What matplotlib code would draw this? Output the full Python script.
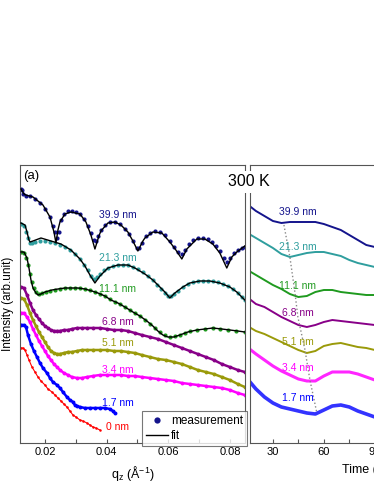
import matplotlib
matplotlib.use("Agg")
import matplotlib.pyplot as plt
from matplotlib.ticker import MultipleLocator, NullLocator
from matplotlib.lines import Line2D

plt.rcParams['font.family'] = ['Liberation Sans', 'DejaVu Sans']
plt.rcParams['mathtext.fontset'] = 'custom'
plt.rcParams['mathtext.rm'] = 'Liberation Sans'
plt.rcParams['mathtext.it'] = 'Liberation Sans:italic'

# ---------------- left panel: XRR (offset intensity, arb.) ----------------
q399 = [0.01222, 0.01254, 0.01287, 0.01384, 0.01514, 0.01676, 0.01838, 0.02, 0.02162, 0.02259,
        0.02324, 0.02389, 0.02454, 0.02519, 0.02616, 0.02746, 0.02875, 0.03005, 0.03135, 0.03264,
        0.03394, 0.03491, 0.03588, 0.03653, 0.03718, 0.03815, 0.03945, 0.04107, 0.04269, 0.04431,
        0.04593, 0.04723, 0.04853, 0.04982, 0.05047, 0.05144, 0.05274, 0.05404, 0.05566, 0.05728,
        0.0589, 0.06052, 0.06182, 0.06311, 0.06441, 0.06538, 0.06668, 0.06797, 0.06959, 0.07121,
        0.07283, 0.07413, 0.07543, 0.07673, 0.07802, 0.07899, 0.07997, 0.08126, 0.08256, 0.08386, 0.08483]
i399 = [254, 253, 249, 247, 247, 244, 240, 234, 226, 217, 211, 205, 211, 223, 229, 232, 232, 231, 229, 224,
        217, 210, 203, 202, 207, 213, 218, 221, 221, 219, 214, 209, 202, 195, 195, 200, 207, 210, 212, 211,
        208, 202, 196, 191, 189, 193, 199, 203, 205, 205, 204, 201, 197, 192, 185, 181, 185, 190, 193, 195, 196]
qf399 = [0.01222, 0.01319, 0.01384, 0.01611, 0.01935, 0.02162, 0.02292, 0.02357, 0.02421, 0.02486,
         0.02648, 0.02843, 0.03135, 0.03329, 0.03491, 0.03621, 0.0375, 0.03815, 0.04042, 0.04269,
         0.04464, 0.0469, 0.04853, 0.05015, 0.05177, 0.05242, 0.05501, 0.05793, 0.06052, 0.06247,
         0.06441, 0.06603, 0.06927, 0.07186, 0.07446, 0.07673, 0.07899, 0.08062, 0.08224, 0.08483]
f399 = [254, 249, 248, 246, 238, 226, 211, 200, 213, 221, 229, 231, 229, 221, 208, 194, 207, 212, 220, 221,
        218, 211, 202, 192, 202, 205, 211, 210, 201, 193, 184, 194, 204, 204, 199, 190, 175, 186, 191, 197]

q213 = [0.01222, 0.01319, 0.01384, 0.01449, 0.01514, 0.01579, 0.01676, 0.01838, 0.02, 0.02162,
        0.02324, 0.02486, 0.02648, 0.0281, 0.02972, 0.03135, 0.03264, 0.03394, 0.03491, 0.03588,
        0.03685, 0.03783, 0.03912, 0.04042, 0.04204, 0.04366, 0.04528, 0.0469, 0.04853, 0.05015,
        0.05177, 0.05339, 0.05501, 0.05631, 0.0576, 0.0589, 0.05987, 0.06084, 0.06182, 0.06311,
        0.06473, 0.06635, 0.06797, 0.06959, 0.07121, 0.07283, 0.07446, 0.07608, 0.0777, 0.07932,
        0.08094, 0.08256, 0.08386, 0.08483]
i213 = [219, 217, 211, 205, 200, 200, 201, 202, 202, 201, 200, 198, 196, 193, 189, 184, 178, 173, 167, 164,
        166, 169, 173, 175, 177, 178, 178, 178, 176, 174, 171, 167, 163, 158, 154, 150, 147, 147, 149, 152,
        156, 159, 161, 162, 162, 162, 162, 161, 159, 157, 154, 150, 146, 143]
qf213 = [0.01222, 0.01352, 0.01417, 0.01481, 0.01514, 0.01611, 0.0187, 0.02194, 0.02519, 0.02843,
         0.03135, 0.03297, 0.03459, 0.03621, 0.03783, 0.04042, 0.04366, 0.0469, 0.04917, 0.05242,
         0.05501, 0.05728, 0.0589, 0.06052, 0.06214, 0.06473, 0.067, 0.07024, 0.07348, 0.07673,
         0.07997, 0.08224, 0.08418, 0.08483]
f213 = [220, 218, 211, 203, 201, 202, 205, 202, 199, 193, 184, 177, 168, 160, 167, 175, 178, 178, 175, 169,
        163, 156, 151, 145, 150, 156, 160, 162, 162, 160, 156, 151, 145, 143]

q111 = [0.01222, 0.01319, 0.01384, 0.01449, 0.01514, 0.01579, 0.01643, 0.01708, 0.01805, 0.01903,
        0.02032, 0.02162, 0.02324, 0.02486, 0.02648, 0.0281, 0.02972, 0.03135, 0.03297, 0.03459,
        0.03621, 0.03783, 0.03945, 0.04107, 0.04269, 0.04431, 0.04593, 0.04755, 0.04917, 0.0508,
        0.05242, 0.05404, 0.05566, 0.05728, 0.0589, 0.06052, 0.06214, 0.06376, 0.06538, 0.067,
        0.06927, 0.07186, 0.07446, 0.07673, 0.07932, 0.08191, 0.08483]
i111 = [191, 190, 185, 178, 169, 161, 155, 151, 149, 150, 151, 152, 153, 154, 155, 155, 155, 155, 154, 153,
        151, 149, 147, 144, 141, 139, 136, 133, 130, 127, 123, 119, 115, 111, 108, 106, 107, 108, 110, 112,
        113, 114, 115, 114, 113, 112, 111]
qf111 = [0.01222, 0.01319, 0.01417, 0.01481, 0.01546, 0.01611, 0.01708, 0.01773, 0.0187, 0.02,
         0.02227, 0.02421, 0.02648, 0.02843, 0.0307, 0.03297, 0.03523, 0.03718, 0.03945, 0.04139,
         0.04366, 0.04593, 0.04853, 0.0508, 0.05306, 0.05501, 0.05663, 0.05825, 0.05987, 0.06182,
         0.06376, 0.06635, 0.06927, 0.07186, 0.07446, 0.07737, 0.07997, 0.08256, 0.08483]
f111 = [191, 191, 185, 175, 163, 155, 150, 148, 149, 151, 153, 154, 155, 155, 155, 154, 152, 150, 147, 143,
        140, 136, 131, 127, 122, 117, 112, 108, 106, 106, 108, 111, 113, 114, 115, 114, 113, 112, 111]

q_thin = [0.01222, 0.01319, 0.01417, 0.01514, 0.01611, 0.01708, 0.01805, 0.01903, 0.02, 0.02097,
          0.02194, 0.02292, 0.02389, 0.02486, 0.02616, 0.02746, 0.02875, 0.03037, 0.03199, 0.03361,
          0.03556, 0.03783, 0.0401, 0.04237, 0.04464, 0.0469, 0.04917, 0.05144, 0.05404, 0.05663,
          0.05922, 0.06182, 0.06441, 0.067, 0.06959, 0.07218, 0.07478, 0.07737, 0.07997, 0.08256, 0.08483]
i68 = [156, 155, 148, 140, 133, 128, 124, 120, 117, 115, 113, 112, 112, 112, 113, 113, 114, 115, 115, 115,
       115, 115, 114, 113, 113, 112, 110, 108, 106, 104, 101, 98, 95, 92, 89, 86, 83, 79, 76, 73, 71]
i51 = [145, 144, 138, 130, 123, 117, 111, 106, 101, 96, 92, 90, 89, 89, 90, 91, 91, 92, 93, 93,
       93, 93, 93, 92, 92, 91, 90, 88, 86, 84, 83, 81, 79, 76, 73, 71, 69, 66, 63, 59, 56]
i34 = [130, 130, 126, 121, 114, 108, 102, 97, 92, 87, 83, 79, 76, 73, 70, 68, 66, 65, 65, 66,
       67, 68, 68, 68, 68, 67, 67, 66, 65, 64, 63, 62, 60, 59, 58, 57, 56, 55, 53, 50, 48]
q17 = [0.01222, 0.01319, 0.01384, 0.01449, 0.01546, 0.01643, 0.01741, 0.01838, 0.01935, 0.02065,
       0.02162, 0.02259, 0.02389, 0.02486, 0.02583, 0.02713, 0.0281, 0.02908, 0.02972, 0.03037,
       0.03135, 0.03297, 0.03459, 0.03621, 0.03783, 0.03945, 0.04107, 0.04204, 0.04269]
i17 = [118, 118, 116, 108, 99, 92, 86, 80, 75, 70, 65, 61, 58, 55, 51, 46, 43, 41, 38, 37,
       36, 35, 35, 35, 35, 35, 34, 32, 30]
q0 = [0.01222, 0.01287, 0.01352, 0.01417, 0.01481, 0.01579, 0.01676, 0.01773, 0.0187, 0.02,
      0.02097, 0.02227, 0.02324, 0.02421, 0.02519, 0.02616, 0.02713, 0.0281, 0.02908, 0.03005,
      0.03135, 0.03232, 0.03361, 0.03459, 0.03556, 0.03653, 0.03783]
i0 = [95, 95, 93, 88, 83, 76, 71, 66, 62, 58, 54, 51, 48, 45, 42, 39, 36, 32, 28, 26,
      23, 22, 20, 18, 16, 15, 13]

labels = ["39.9 nm", "21.3 nm", "11.1 nm", "6.8 nm", "5.1 nm", "3.4 nm", "1.7 nm", "0 nm"]
colors = ["#14148c", "#2f9e9e", "#1f9a1f", "#880088", "#9a9a0a", "#ff00ff", "#0000ff", "#ff0000"]
label_y_left = [228, 185, 154, 121, 100, 73, 40, 16]

# ---------------- right panel: time traces ----------------
t = [17, 20, 25, 30, 35, 40, 45, 50, 55, 60, 65, 70, 75, 80, 85, 90, 95]
r399 = [236, 232, 227, 222, 220, 221, 221, 221, 221, 219, 216, 213, 208, 203, 198, 196, 194]
r213 = [208, 205, 200, 195, 189, 186, 188, 190, 191, 191, 189, 187, 183, 180, 178, 176, 175]
r111 = [171, 168, 163, 158, 154, 149, 146, 147, 151, 153, 153, 151, 150, 149, 148, 148, 147]
r68 = [143, 139, 136, 131, 126, 122, 118, 116, 118, 121, 123, 122, 121, 120, 119, 118, 117]
r51 = [115, 112, 109, 105, 101, 97, 93, 90, 92, 97, 99, 100, 98, 96, 95, 93, 91]
r34 = [93, 89, 83, 77, 72, 68, 64, 62, 62, 67, 71, 71, 71, 69, 66, 63, 60]
r17 = [60, 54, 46, 40, 36, 34, 32, 30, 29, 33, 37, 38, 36, 32, 29, 26, 24]
label_y_right = [231, 196, 157, 130, 101, 75, 45]
t_min = [36.5, 40, 43, 44.7, 48.9, 51.8, 55.9]
y_min = [218, 186, 150, 126, 93, 63, 30]

W, H = 374, 484
fig = plt.figure(figsize=(W / 100, H / 100), dpi=100)
axL = fig.add_axes([20 / W, 41 / H, 225 / W, 278 / H])
axR = fig.add_axes([250 / W, 41 / H, 230 / W, 278 / H])

# measured points
meas = [(q399, i399), (q213, i213), (q111, i111), (q_thin, i68), (q_thin, i51), (q_thin, i34), (q17, i17), (q0, i0)]
for k, ((qq, ii), c) in enumerate(zip(meas, colors)):
    if k < 3:
        axL.plot(qq, ii, 'o', ms=3.0, color=c, mec='none', zorder=2)
    elif k < 7:
        axL.plot(qq, ii, '-', lw=1.8, color=c, zorder=2)
        axL.plot(qq, ii, 'o', ms=2.8, color=c, mec='none', zorder=2)
    else:
        axL.plot(qq, ii, 'o', ms=1.8, color=c, mec='none', zorder=2)
        axL.plot(qq, ii, '-', lw=0.8, color=c, zorder=2)

for qq, ff in [(qf399, f399), (qf213, f213), (qf111, f111)]:
    axL.plot(qq, ff, '-', color='black', lw=1.0, zorder=3)

for lab, c, y in zip(labels, colors, label_y_left):
    axL.text(0.0435, y, lab, color=c, fontsize=7.5, ha='center', va='center')

axL.set_xlim(0.0119, 0.0849)
axL.set_ylim(0, 278)
axL.xaxis.set_major_locator(MultipleLocator(0.02))
axL.xaxis.set_minor_locator(MultipleLocator(0.01))
axL.yaxis.set_major_locator(NullLocator())
axL.tick_params(axis='x', which='both', direction='in', length=3, width=0.8, labelsize=8, pad=3, color='#555555')
axL.set_xlabel(r'q$_\mathrm{z}$ ($\mathrm{\AA}^{-1}$)', fontsize=9)
axL.xaxis.set_label_coords(0.5, -0.075)
axL.set_ylabel('Intensity (arb.unit)', fontsize=8.5)
axL.yaxis.set_label_coords(-0.025, 0.5)
axL.text(0.049, 0.96, '(a)', transform=axL.transAxes, fontsize=9.5, ha='center', va='center')

handles = [Line2D([], [], ls='none', marker='o', ms=4.5, color='#14148c', mec='none'),
           Line2D([], [], color='black', lw=1.0)]
leg = axL.legend(handles, ['measurement', 'fit'], loc='lower right', bbox_to_anchor=(1.01, -0.01),
                 fontsize=8.5, frameon=True, fancybox=False, borderaxespad=0, handlelength=1.8,
                 handletextpad=0.3, labelspacing=0.2, borderpad=0.35)
leg.get_frame().set_edgecolor('#555555')
leg.get_frame().set_linewidth(0.8)

# right panel
traces = [r399, r213, r111, r68, r51, r34, r17]
widths = [1.4, 1.4, 1.4, 1.4, 1.4, 2.2, 2.6]
alphas = [1, 1, 1, 1, 1, 0.85, 0.8]
for rr, c, lw, a in zip(traces, colors, widths, alphas):
    axR.plot(t, rr, '-', color=c, lw=lw, alpha=a)
axR.plot(t_min, y_min, ':', color='#888888', lw=1.0)
for lab, c, y in zip(labels, colors, label_y_right):
    axR.text(44.7, y, lab, color=c, fontsize=7.5, ha='center', va='center')

axR.set_xlim(16.5, 152)
axR.set_ylim(0, 278)
axR.xaxis.set_major_locator(MultipleLocator(30))
axR.xaxis.set_minor_locator(MultipleLocator(15))
axR.yaxis.set_major_locator(NullLocator())
axR.tick_params(axis='x', which='both', direction='in', length=3, width=0.8, labelsize=8, pad=3, color='#555555')
axR.set_xlabel('Time (s)', fontsize=9)
axR.xaxis.set_label_coords(0.5, -0.075)

for ax in (axL, axR):
    for s in ax.spines.values():
        s.set_color('#555555')
        s.set_linewidth(0.8)

fig.text(249 / W, 1 - 182 / H, '300 K', fontsize=11.5, ha='center', va='center',
         bbox=dict(facecolor='white', edgecolor='none', pad=2.5))

fig.savefig('out.png', dpi=100)
